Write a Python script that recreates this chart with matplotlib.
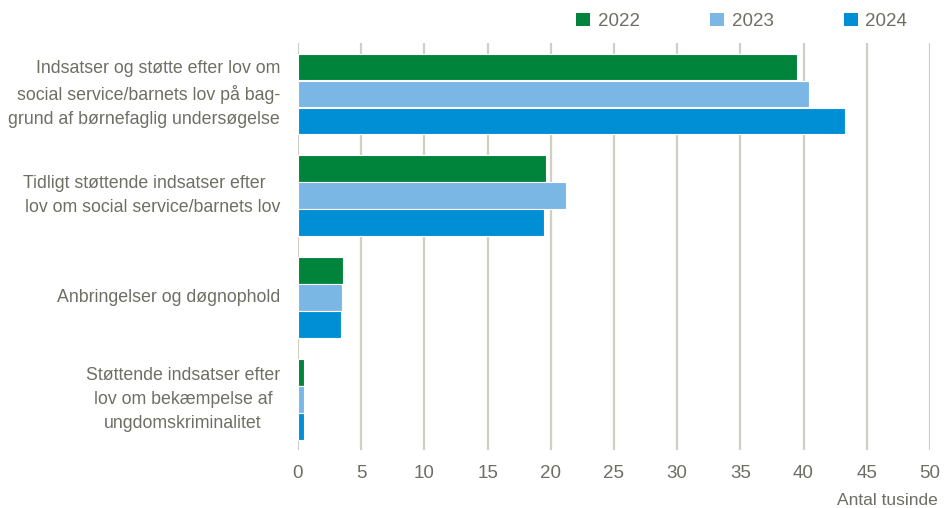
import matplotlib
matplotlib.use('Agg')
import matplotlib.pyplot as plt
from matplotlib.patches import Patch
import numpy as np

# Data (antal tusinde)
kategorier = [
    'Indsatser og støtte efter lov om\nsocial service/barnets lov på bag-\ngrund af børnefaglig undersøgelse',
    'Tidligt støttende indsatser efter   \nlov om social service/barnets lov',
    'Anbringelser og døgnophold',
    'Støttende indsatser efter\nlov om bekæmpelse af\nungdomskriminalitet',
]
aar = ['2022', '2023', '2024']
v2022 = [39.5, 19.6, 3.6, 0.5]
v2023 = [40.4, 21.2, 3.5, 0.45]
v2024 = [43.3, 19.5, 3.4, 0.45]
xticks = [0, 5, 10, 15, 20, 25, 30, 35, 40, 45, 50]

farver = ['#00843C', '#7AB7E5', '#008FD5']
tekst = '#6E6E64'
grid = '#CFCFC6'

plt.rcParams['font.family'] = ['Liberation Sans', 'DejaVu Sans']

fig = plt.figure(figsize=(9.46, 5.08), dpi=100)
ax = fig.add_axes([0.315, 0.114, 0.668, 0.801])

y = np.arange(len(kategorier))
serier = [v2022, v2023, v2024]
for j, vals in enumerate(serier):
    ax.barh(y + (j - 1) * 0.265, vals, height=0.262, color=farver[j],
            edgecolor='white', linewidth=0.8, zorder=3)

ax.set_xlim(0, 50)
ax.set_ylim(3.5, -0.5)
ax.set_xticks(xticks)
ax.set_xticklabels([str(t) for t in xticks])
ax.xaxis.grid(True, color=grid, linewidth=1.6, zorder=0)
ax.tick_params(axis='x', length=0, pad=11, labelsize=13.5, labelcolor=tekst)
ax.set_yticks(y)
ax.set_yticklabels([''] * len(y))
ax.tick_params(axis='y', length=0)
for s in ax.spines.values():
    s.set_visible(False)

# kategori-tekster
for i, lab in enumerate(kategorier):
    ma = 'center' if i == 3 else 'right'
    ax.annotate(lab, xy=(0, i), xycoords=('axes fraction', 'data'),
                xytext=(-18, 0), textcoords='offset pixels',
                ha='right', va='center', multialignment=ma,
                fontsize=12.8, color=tekst, linespacing=1.55)

ax.text(1.0 + 8 / 632, -0.105, 'Antal tusinde', transform=ax.transAxes,
        ha='right', va='top', fontsize=12.5, color=tekst)

handles = [Patch(facecolor=c, edgecolor='none') for c in farver]
fig.legend(handles, aar, loc='center left', bbox_to_anchor=(0.609, 0.958), ncol=3,
           frameon=False, fontsize=13.5, labelcolor=tekst, handlelength=0.75,
           handleheight=0.75, handletextpad=0.4, columnspacing=3.75,
           borderaxespad=0, borderpad=0)

fig.savefig('out.png', dpi=100)
